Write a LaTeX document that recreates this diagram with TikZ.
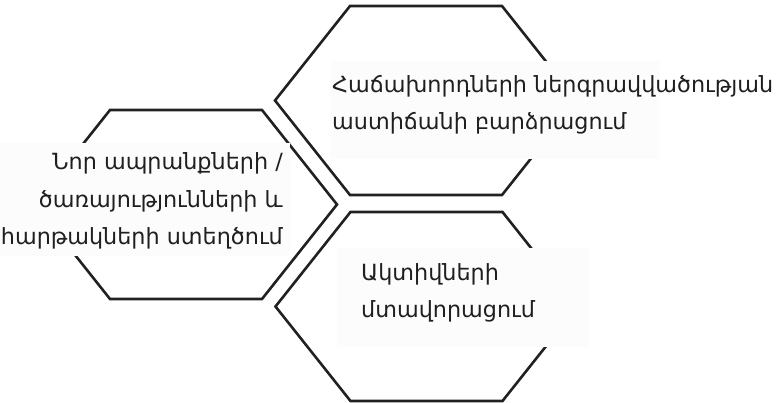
\documentclass[tikz,border=0pt]{standalone}
\usepackage{fontspec}
\newfontfamily\armfont{DejaVu Sans}
\usetikzlibrary{calc,positioning}

\begin{document}
\begin{tikzpicture}[
  x=1pt,y=-1pt,
  cell/.style={line width=2.6pt,draw=black!87,line join=miter},
  shade box/.style={fill=black!1.2,draw=none,inner sep=0pt,anchor=north west},
  cell text/.style={inner sep=0pt,font=\armfont\fontsize{22.3}{37.5}\selectfont,text=black!88}]
  \useasboundingbox (0,0) rectangle (780,403);
  % lc-left cell, tc-top cell, bc-bottom cell
  \coordinate (lc) at (186,204.5);
  \coordinate (tc) at (426,100.5);
  \coordinate (bc) at (426.5,306.5);
  \foreach \c in {lc,tc,bc}
    \draw[cell] ($(\c)+(-151,0)$) -- ++(75,-94.5) -- ++(152,0)
      -- ++(75,94.5) -- ++(-75,94.5) -- ++(-152,0) -- cycle;
  % faint boxes behind the labels
  \node[shade box,minimum width=290,minimum height=113] (lbox) at (0,143) {};
  \node[shade box,minimum width=330,minimum height=98] (tbox) at (330,61) {};
  \node[shade box,minimum width=253,minimum height=99] (bbox) at (337,248) {};
  % labels (base = last line)
  \node[cell text,align=right,anchor=base east] (lt) at (283,245)
    {Նոր ապրանքների /\\ծառայությունների և\\հարթակների ստեղծում};
  \node[cell text,align=left,anchor=base west] (tt) at (332,130)
    {Հաճախորդների ներգրավվածության\\աստիճանի բարձրացում};
  \node[cell text,align=left,anchor=base west] (bt) at (361,318)
    {Ակտիվների\\մտավորացում};
\end{tikzpicture}
\end{document}
